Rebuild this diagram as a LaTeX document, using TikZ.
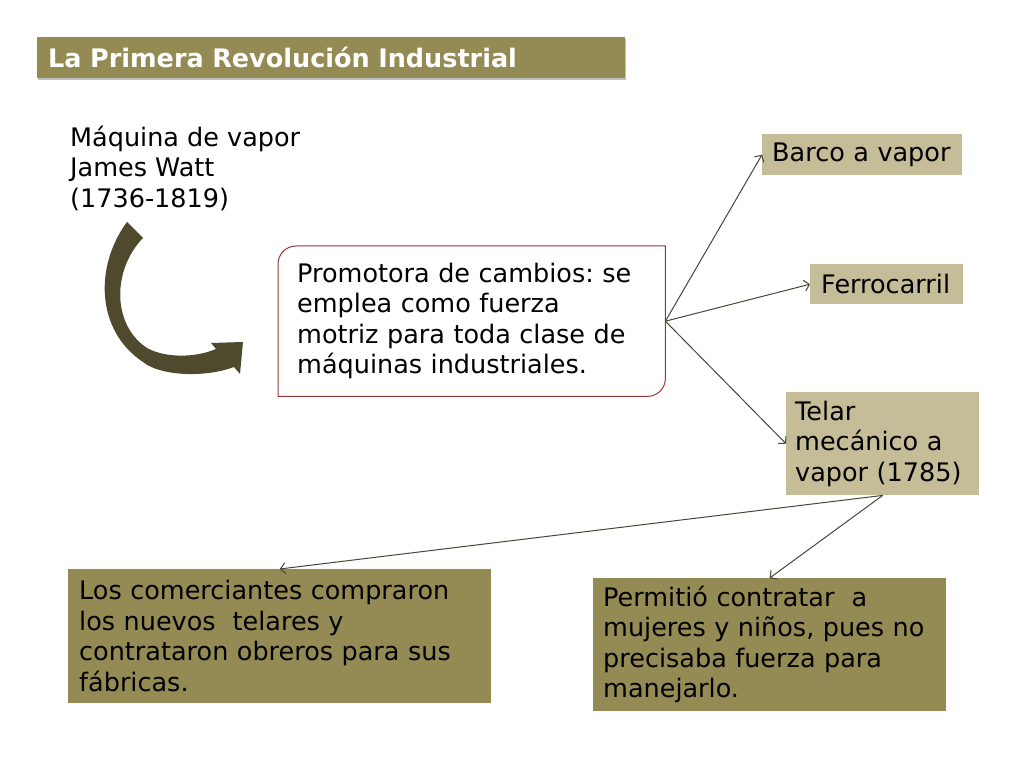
\documentclass[tikz,border=0pt]{standalone}
\usepackage{fontspec}
\setmainfont{DejaVu Sans}
\usepackage{tikz}
\usetikzlibrary{arrows.meta,shadows}
\frenchspacing

\definecolor{olivebox}{HTML}{948A54}
\definecolor{tanbox}{HTML}{C4BD97}
\definecolor{promoline}{HTML}{953735}
\definecolor{linkline}{HTML}{47463A}
\definecolor{arrowbrown}{HTML}{4F4A2E}

\begin{document}
\begin{tikzpicture}
                [
                    x=1pt,
                    y=1pt,
                    every node/.style={font=\fontsize{25.5}{30.5}\selectfont},
                    box/.style={shape=rectangle, anchor=north west, align=left, inner ysep=0pt},
                    box light/.style={box, fill=tanbox},
                    box dark/.style={box, fill=olivebox},
                    box promo/.style={box, inner xsep=19pt},
                    title bar/.style={box, fill=olivebox, text=white, inner xsep=11pt,
                                      font=\fontsize{25.5}{30}\selectfont\bfseries,
                                      drop shadow={shadow xshift=1pt, shadow yshift=-2pt, fill=black, opacity=0.25}},
                    link/.style={draw=linkline, line width=1pt, -{Straight Barb[length=5pt, width=11pt]}},
                    promo border/.style={draw=promoline, line width=1pt},
                    bent arrow/.style={fill=arrowbrown}
                ]
                \useasboundingbox (0,0) rectangle (1024,768);

                \node (titulo)
                      [title bar, text width=566pt, minimum height=41pt] at (37,731)
                      {La Primera Revolución Industrial};

                \node (maquina)
                      [anchor=west, align=left, inner sep=0pt] at (70,600)
                      {Máquina de vapor\\James Watt\\(1736-1819)};

                \node (promo)
                      [box promo, text width=349pt, minimum height=150pt] at (278,522)
                      {Promotora de cambios: se\\emplea como fuerza\\motriz para toda clase de\\máquinas industriales.};

                \node (barco)
                      [box light, inner xsep=10pt, text width=180pt, minimum height=41pt] at (762,634)
                      {Barco a vapor};

                \node (ferro)
                      [box light, inner xsep=11pt, text width=131pt, minimum height=40pt] at (810,504)
                      {Ferrocarril};

                \node (telar)
                      [box light, inner xsep=9pt, text width=175pt, minimum height=103pt] at (786,376)
                      {Telar\\mecánico a\\vapor (1785)};

                \node (comerciantes)
                      [box dark, inner xsep=11pt, text width=401pt, minimum height=134pt] at (68,199)
                      {Los comerciantes compraron\\los nuevos\ \ telares y\\contrataron obreros para sus\\fábricas.};

                \node (permitio)
                      [box dark, inner xsep=10pt, text width=333pt, minimum height=133pt] at (593,190)
                      {Permitió contratar\ \ a\\mujeres y niños, pues no\\precisaba fuerza para\\manejarlo.};

                \draw [promo border]
                      (promo.south west) -- ([yshift=-18pt]promo.north west)
                      arc [start angle=180, end angle=90, radius=18]
                      -- (promo.north east) -- ([yshift=18pt]promo.south east)
                      arc [start angle=0, end angle=-90, radius=18]
                      -- cycle;

                \fill [bent arrow]
                      (127,546) .. controls (95,503) and (95,438) .. (143,406)
                      .. controls (160,392) and (205,390) .. (234,401)
                      -- (240,394) -- (243,426) -- (211,425) -- (216,419)
                      .. controls (195,410) and (165,410) .. (147,420)
                      .. controls (112,443) and (112,498) .. (143,530)
                      -- cycle;

                \path
                (promo.east)  edge [link] (barco.west)
                (promo.east)  edge [link] (ferro.west)
                (promo.east)  edge [link] (telar.west)
                (telar.south) edge [link] (comerciantes.north)
                (telar.south) edge [link] (permitio.north)
                ;

\end{tikzpicture}
\end{document}
